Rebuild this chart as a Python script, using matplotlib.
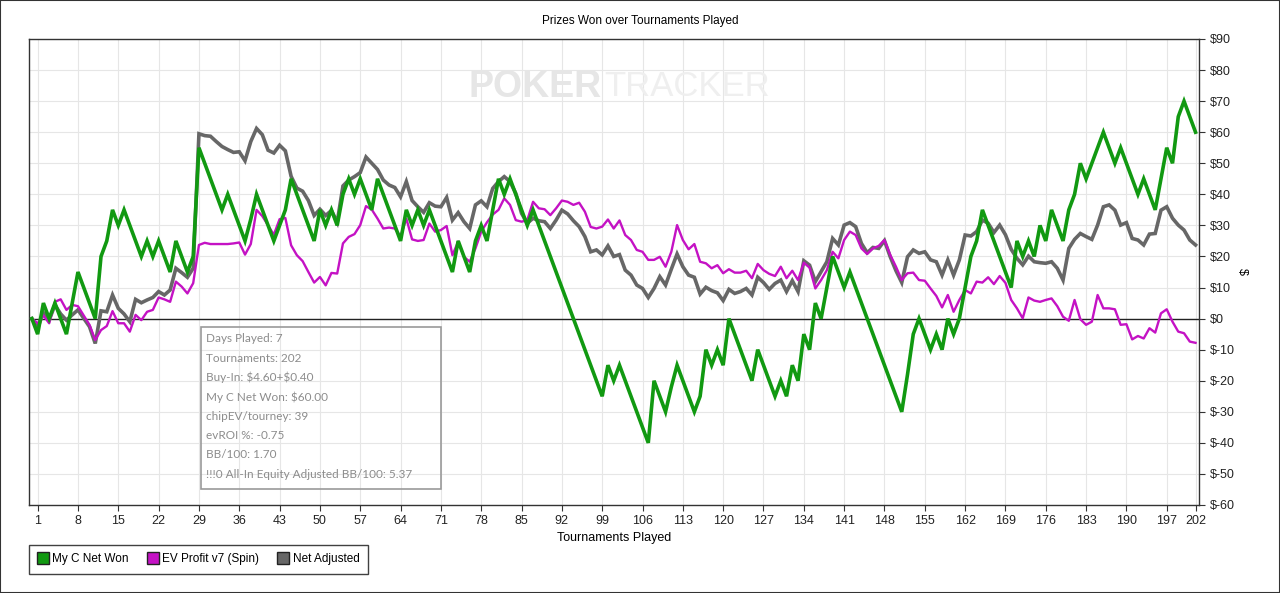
import matplotlib
matplotlib.use("Agg")
import matplotlib.pyplot as plt
from matplotlib.lines import Line2D
from matplotlib.patches import Rectangle

plt.rcParams["font.family"] = ["Liberation Sans", "DejaVu Sans"]

# tournament index 0..202 (0 = start)
tournaments = list(range(0, 203))

net_won = [
    0, -5, 5, 0, 5, 0, -5, 5, 15, 10, 5, 0, 20, 25, 35, 30, 35, 30, 25, 20,
    25, 20, 25, 20, 15, 25, 20, 15, 20, 55, 50, 45, 40, 35, 40, 35, 30, 25, 32, 40,
    35, 30, 25, 30, 35, 45, 40, 35, 30, 25, 35, 30, 35, 30, 40, 45, 40, 45, 40, 35,
    45, 40, 35, 30, 25, 35, 30, 35, 30, 35, 30, 25, 20, 15, 25, 20, 15, 25, 30, 25,
    35, 45, 40, 45, 40, 35, 30, 35, 30, 25, 20, 15, 10, 5, 0, -5, -10, -15, -20, -25,
    -15, -20, -15, -20, -25, -30, -35, -40, -20, -25, -30, -22, -15, -20, -25, -30, -25, -10, -15, -10,
    -15, 0, -5, -10, -15, -20, -10, -15, -20, -25, -20, -25, -15, -20, -5, -10, 5, 0, 10, 20,
    15, 10, 15, 10, 5, 0, -5, -10, -15, -20, -25, -30, -18, -5, 0, -5, -10, -5, -10, 0,
    -5, 0, 10, 20, 25, 35, 30, 25, 20, 15, 10, 25, 20, 25, 20, 30, 25, 35, 30, 25,
    35, 40, 50, 45, 50, 55, 60, 55, 50, 55, 50, 45, 40, 45, 40, 35, 45, 55, 50, 65,
    70, 65, 60,
]

ev_profit = [
    0, -1.5, 1, -1.5, 5.4, 6.2, 2.8, 4.4, 4, 1, -2, -6.9, -3.7, -2.4, 2.4, -1.5, -1.5, -4.2, 1.2, -0.5,
    2.2, 2.8, 6.8, 6.2, 5.4, 11.9, 10.3, 8.1, 11.4, 23.7, 24.4, 24, 24, 24, 24, 24.2, 24.5, 20.6, 24, 35,
    33, 30, 27, 32, 32.4, 23.6, 20.4, 18.5, 15, 11.6, 13.4, 10.7, 14.7, 14.5, 24.2, 26.3, 27.2, 30.1, 36.2, 35.1,
    32.2, 29, 29.3, 29, 26.5, 32.2, 25.5, 25, 25.3, 30.6, 28, 28.5, 29.8, 20.4, 24.8, 19.9, 18.3, 22.6, 28, 31,
    33.5, 35, 38.7, 36.6, 31.7, 31.2, 31.7, 37.6, 35.5, 35.2, 33.3, 35.5, 38, 37.6, 36.6, 37.3, 34.4, 29.5, 29, 29.6,
    31.9, 29, 31.6, 26.9, 25.3, 22.1, 21.5, 18.9, 18.9, 19.9, 16.7, 21.5, 30.1, 25.3, 22.3, 24, 18.3, 17.8, 16.2, 17.2,
    14.6, 15.9, 14.8, 14.8, 15.4, 13, 17.6, 15.6, 14.4, 13.7, 16.7, 13, 15.4, 12.4, 18, 16.4, 9.7, 12.4, 15.6, 21.5,
    19.4, 25.3, 28, 26.9, 22.6, 20.8, 22.6, 23.4, 25.3, 20.5, 16.7, 12.4, 14.6, 14.8, 12.4, 12.2, 9.7, 7.3, 3.6, 7.6,
    2.2, 6, 9.2, 8.1, 11.9, 11.6, 13.3, 11.1, 13.7, 11.5, 6, 3.3, 0.1, 6.8, 5.8, 5.4, 6, 6.5, 4, 0.6,
    -0.7, 6, -0.2, -2, -1, 7.6, 3.3, 3.3, 3, -2, -1.8, -6.7, -5.6, -6.4, -3.1, -4.5, 1.7, 3, -1, -4.2,
    -4.7, -7.4, -7.8,
]

net_adjusted = [
    0, -3, 1.9, -0.5, 4.4, 1.5, -0.5, 1.2, 2.8, 0.1, -2.6, -8, 2.5, 2.2, 7.6, 3.3, 1.5, -1, 6.2, 5.1,
    6, 6.8, 8.7, 7.6, 9.2, 16.2, 14.8, 13.3, 16.2, 59.5, 58.9, 58.7, 57, 55.4, 54.4, 53.5, 53.7, 50.8, 57, 61.2,
    59.2, 54.2, 53.3, 55.8, 54, 45.8, 42, 41, 38, 33.2, 35.2, 33.2, 34.8, 31, 42.7, 44.6, 45.7, 47, 52, 50,
    48, 44.6, 43, 42.2, 39.2, 44.1, 38, 36, 34.2, 37.3, 36.2, 36, 39, 31.7, 34.1, 31.2, 29, 36.6, 37.9, 36,
    41.9, 44.1, 45.7, 44.1, 40.3, 33.9, 30.7, 32.3, 31.5, 31.2, 29, 31.7, 34.9, 33.7, 31.5, 29.6, 26.4, 21.5, 22.1, 20.5,
    23.4, 20, 20.6, 15.6, 14, 10.8, 9.7, 6.8, 9.7, 13.5, 10.8, 15.9, 20.8, 16.7, 14, 13.3, 7.9, 10.1, 9, 8.3,
    5.8, 9.4, 8.1, 8.7, 9.7, 7.6, 13.3, 11.6, 9.4, 11.3, 12.4, 8.7, 12.2, 8.7, 18.6, 17.2, 11.9, 15.1, 18.3, 25.8,
    23.7, 30.1, 30.9, 29.6, 24.2, 21.2, 22.9, 22.6, 25.1, 19.9, 15.4, 11.6, 19.9, 22.1, 21, 21.5, 18.9, 18.3, 14, 18.9,
    14, 18.9, 26.9, 26.6, 28, 31.7, 30.7, 27.7, 30.1, 27, 22.3, 19.4, 17.3, 20.1, 18.3, 18, 17.8, 18.3, 16.2, 12.4,
    22.6, 25.5, 27.4, 26.4, 25.5, 30.1, 36, 36.6, 34.9, 30.1, 30.9, 25.8, 25.3, 23.7, 27.2, 27.4, 34.9, 36, 32.3, 30.1,
    28.5, 25.3, 23.7,
]

x_ticks = [1, 8, 15, 22, 29, 36, 43, 50, 57, 64, 71, 78, 85, 92, 99, 106, 113, 120,
           127, 134, 141, 148, 155, 162, 169, 176, 183, 190, 197, 202]
y_ticks = list(range(-60, 91, 10))

info_lines = [
    "Days Played: 7",
    "Tournaments: 202",
    "Buy-In: $4.60+$0.40",
    "My C Net Won: $60.00",
    "chipEV/tourney: 39",
    "evROI %: -0.75",
    "BB/100: 1.70",
    "!!!0 All-In Equity Adjusted BB/100: 5.37",
]

green = "#119911"
magenta = "#c412c4"
grey = "#676767"

W, H = 1280, 593
fig = plt.figure(figsize=(W / 100, H / 100), dpi=100)
ax = fig.add_axes([29 / W, 1 - 505 / H, (1199 - 29) / W, (505 - 39) / H])

ax.plot(tournaments, net_adjusted, color=grey, lw=2.6, zorder=3, solid_joinstyle="miter")
ax.plot(tournaments, ev_profit, color=magenta, lw=1.7, zorder=4)
ax.plot(tournaments, net_won, color=green, lw=2.6, zorder=5, solid_joinstyle="miter")

ax.axhline(0, color="#222222", lw=1.0, zorder=2)

ax.set_xlim(-0.5, 202.6)
ax.set_ylim(-60, 90)
ax.set_xticks(x_ticks)
ax.set_yticks(y_ticks)
ax.set_yticklabels(["$%d" % v for v in y_ticks])
ax.yaxis.tick_right()
ax.yaxis.set_label_position("right")
ax.tick_params(axis="both", labelsize=9, length=4, color="#333333", labelcolor="#222222")
ax.grid(True, color="#e6e6e6", lw=0.8, zorder=0)
for s in ax.spines.values():
    s.set_color("#333333")
    s.set_linewidth(1.0)

ax.set_xlabel("Tournaments Played", fontsize=9, labelpad=3)
ax.set_ylabel("$", fontsize=9, rotation=270, labelpad=10)

fig.text(0.5, 1 - 21 / H, "Prizes Won over Tournaments Played", ha="center", va="center", fontsize=8.5)

# watermark
fig.text(602 / W, 1 - 87 / H, "POKER", ha="right", va="center", fontsize=27,
         fontweight="bold", color="#e6e6e6", zorder=0)
fig.text(604 / W, 1 - 87 / H, "TRACKER", ha="left", va="center", fontsize=25,
         color="#efefef", zorder=0)

# stats box
fig.patches.append(Rectangle((201 / W, 1 - 489 / H), 240 / W, 162 / H, transform=fig.transFigure,
                             fill=False, edgecolor="#9a9a9a", lw=1.2, figure=fig))
for i, line in enumerate(info_lines):
    fig.text(206 / W, 1 - (339 + i * 19.3) / H, line, ha="left", va="center",
             fontsize=8.5, color="#8c8c8c", family=["Lato", "DejaVu Sans"], parse_math=False)

# legend
handles = [
    Line2D([], [], ls="none", marker="s", markersize=8, markerfacecolor=green, markeredgecolor="#222222"),
    Line2D([], [], ls="none", marker="s", markersize=8, markerfacecolor=magenta, markeredgecolor="#222222"),
    Line2D([], [], ls="none", marker="s", markersize=8, markerfacecolor=grey, markeredgecolor="#222222"),
]
leg = fig.legend(handles, ["My C Net Won", "EV Profit v7 (Spin)", "Net Adjusted"],
                 loc="upper left", bbox_to_anchor=(29 / W, 1 - 545 / H), ncol=3,
                 fontsize=8.5, frameon=True, fancybox=False, borderaxespad=0,
                 handletextpad=0.35, columnspacing=1.6, handlelength=0.9, borderpad=0.7)
leg.get_frame().set_edgecolor("#111111")
leg.get_frame().set_linewidth(1.0)

fig.patches.append(Rectangle((0, 0), 1, 1, transform=fig.transFigure, fill=False,
                             edgecolor="#333333", lw=1.5, figure=fig))

fig.savefig("out.png", dpi=100)
plt.close(fig)
